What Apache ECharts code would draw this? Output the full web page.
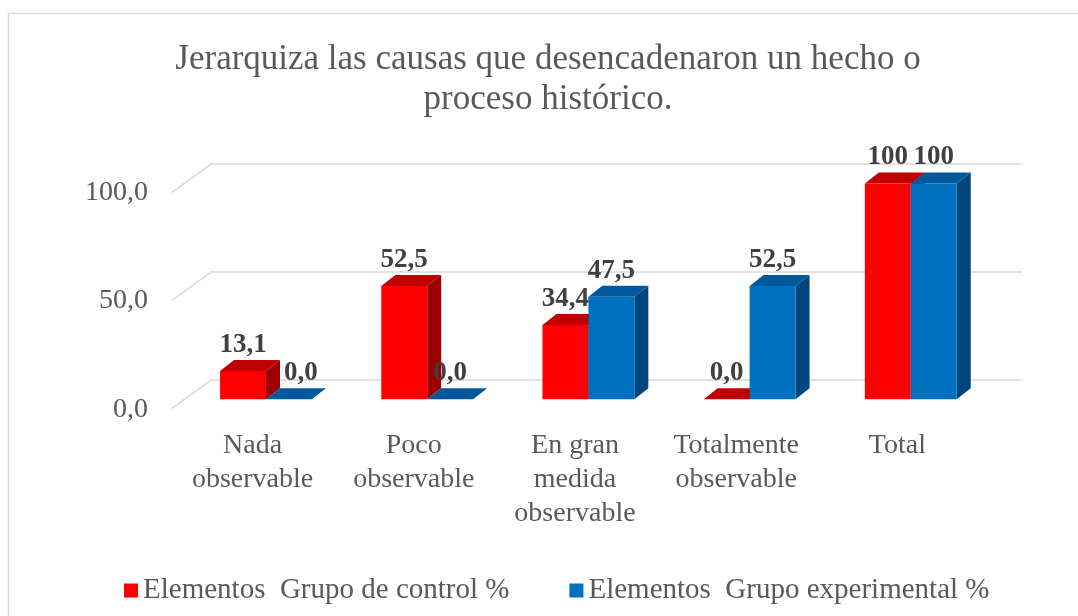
<!DOCTYPE html>
<html>
<head>
<meta charset="utf-8">
<script src="https://cdn.jsdelivr.net/npm/echarts@6/dist/echarts.min.js"></script>
<style>
  html, body { margin: 0; padding: 0; background: #fff; }
  #chart { width: 1078px; height: 616px; }
</style>
</head>
<body>
<div id="chart"></div>
<script>
const categories = ['Nada\nobservable', 'Poco\nobservable', 'En gran\nmedida\nobservable', 'Totalmente\nobservable', 'Total'];
const controlValues = [13.1, 52.5, 34.4, 0.0, 100];
const experimentalValues = [0.0, 0.0, 47.5, 52.5, 100];
const yTicks = [0, 50, 100];
const seriesNames = ['Elementos  Grupo de control %', 'Elementos  Grupo experimental %'];
const titleText = 'Jerarquiza las causas que desencadenaron un hecho o\nproceso histórico.';

const FONT = "'Liberation Serif', 'Times New Roman', serif";
const TEXT_GREY = '#595959';
const GRID_GREY = '#d9d9d9';
// oblique 3D offsets: bar depth and floor depth (front edge -> back wall)
const DEPTH_X = 14, DEPTH_Y = -11;
const WALL_X = 40, WALL_Y = -29;
// the one label Excel had nudged sideways
const labelNudges = [{ series: 1, index: 0, dx: 12 }];

const palettes = [
  { front: '#ff0000', top: '#c00000', side: '#9e0000' },
  { front: '#0070c0', top: '#00589c', side: '#00467c' },
];

function formatValue(value, index) {
  if (index === categories.length - 1) return String(value);
  return value.toFixed(1).replace('.', ',');
}

function barRenderer(seriesIndex) {
  const colors = palettes[seriesIndex];
  return function (params, api) {
    const i = api.value(0);
    const v = api.value(1);
    const top = api.coord([i, v]);
    const base = api.coord([i, 0]);
    const w = api.size([1, 0])[0] * 0.285;
    const x0 = seriesIndex === 0 ? top[0] - w : top[0];
    const x1 = x0 + w;
    const yt = top[1];
    const yb = base[1];
    const nudge = labelNudges.find((n) => n.series === seriesIndex && n.index === i);

    return {
      type: 'group',
      children: [
        {
          type: 'polygon',
          shape: { points: [[x1, yt], [x1 + DEPTH_X, yt + DEPTH_Y], [x1 + DEPTH_X, yb + DEPTH_Y], [x1, yb]] },
          style: { fill: colors.side },
        },
        {
          type: 'polygon',
          shape: { points: [[x0, yt], [x0 + DEPTH_X, yt + DEPTH_Y], [x1 + DEPTH_X, yt + DEPTH_Y], [x1, yt]] },
          style: { fill: colors.top },
        },
        {
          type: 'rect',
          shape: { x: x0, y: yt, width: w, height: yb - yt },
          style: { fill: colors.front },
        },
        {
          type: 'text',
          x: (x0 + x1) / 2 + (nudge ? nudge.dx : 0),
          y: yt + DEPTH_Y - 15,
          z2: 100,
          style: {
            text: formatValue(v, i),
            fill: '#404040',
            fontSize: 27,
            fontWeight: 'bold',
            fontFamily: FONT,
            align: 'center',
            verticalAlign: 'middle',
          },
        },
      ],
    };
  };
}

const chart = echarts.init(document.getElementById('chart'), null, { renderer: 'canvas' });

chart.setOption({
  backgroundColor: '#ffffff',
  animation: false,
  title: {
    text: titleText,
    left: 548,
    top: 40,
    padding: 0,
    textAlign: 'center',
    textStyle: {
      fontFamily: FONT,
      fontSize: 35,
      fontWeight: 'normal',
      color: TEXT_GREY,
      lineHeight: 40,
    },
  },
  legend: {
    data: seriesNames.map((name) => ({ name, icon: 'rect' })),
    left: 119,
    top: 571,
    itemWidth: 14,
    itemHeight: 14,
    itemGap: 60,
    textStyle: { fontFamily: FONT, fontSize: 29, color: TEXT_GREY },
  },
  graphic: [{
    type: 'rect',
    silent: true,
    z: -10,
    shape: { x: 8.5, y: 13.5, width: 1200, height: 800 },
    style: { fill: null, stroke: GRID_GREY, lineWidth: 1.5 },
  }],
  grid: [
    // bar front faces
    { left: 185.4, width: 806, top: 183.5, height: 215.8 },
    // front edge of the floor: axis labels
    { left: 172, width: 806, top: 192.7, height: 216.6 },
    // back wall: gridlines
    { left: 212, width: 810, top: 163.3, height: 216 },
  ],
  xAxis: [
    { gridIndex: 0, type: 'category', data: categories, show: false },
    {
      gridIndex: 1,
      type: 'category',
      data: categories,
      axisLine: { show: false },
      axisTick: { show: false },
      axisLabel: {
        margin: 19,
        interval: 0,
        fontFamily: FONT,
        fontSize: 28,
        lineHeight: 34,
        color: TEXT_GREY,
      },
    },
    { gridIndex: 2, type: 'value', min: 0, max: 1, show: false },
  ],
  yAxis: [
    { gridIndex: 0, type: 'value', min: 0, max: 100, show: false },
    {
      gridIndex: 1,
      type: 'value',
      min: 0,
      max: 100,
      interval: 50,
      axisLine: { show: false },
      axisTick: { show: false },
      splitLine: { show: false },
      axisLabel: {
        margin: 24,
        fontFamily: FONT,
        fontSize: 28,
        color: TEXT_GREY,
        formatter: (value) => value.toFixed(1).replace('.', ','),
      },
    },
    {
      gridIndex: 2,
      type: 'value',
      min: 0,
      max: 100,
      interval: 50,
      axisLine: { show: false },
      axisTick: { show: false },
      axisLabel: { show: false },
      splitLine: { lineStyle: { color: GRID_GREY, width: 1.5 } },
    },
  ],
  series: [
    {
      type: 'custom',
      name: 'floor',
      xAxisIndex: 2,
      yAxisIndex: 2,
      silent: true,
      z: 1,
      data: yTicks.map((t) => [0, t]),
      renderItem: (params, api) => {
        const p = api.coord([0, api.value(1)]);
        return {
          type: 'line',
          shape: { x1: p[0] - WALL_X, y1: p[1] - WALL_Y, x2: p[0], y2: p[1] },
          style: { stroke: GRID_GREY, lineWidth: 1.5 },
        };
      },
    },
    {
      type: 'custom',
      name: seriesNames[0],
      xAxisIndex: 0,
      yAxisIndex: 0,
      itemStyle: { color: palettes[0].front },
      data: controlValues.map((v, i) => [i, v]),
      renderItem: barRenderer(0),
    },
    {
      type: 'custom',
      name: seriesNames[1],
      xAxisIndex: 0,
      yAxisIndex: 0,
      itemStyle: { color: palettes[1].front },
      data: experimentalValues.map((v, i) => [i, v]),
      renderItem: barRenderer(1),
    },
  ],
});
</script>
</body>
</html>
